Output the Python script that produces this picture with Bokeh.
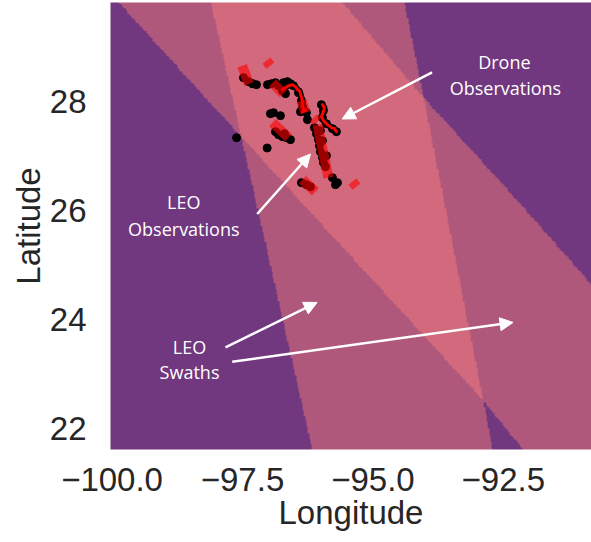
import numpy as np
from bokeh.plotting import figure
from bokeh.models import (Range1d, FixedTicker, CustomJSTickFormatter, LinearColorMapper,
                          Label, Arrow, NormalHead)
from bokeh.embed import file_html
from bokeh.resources import INLINE

# ---------------- data ----------------
x_ticks = [-100.0, -97.5, -95.0, -92.5]
y_ticks = [22, 24, 26, 28]
x_label = "Longitude"
y_label = "Latitude"

# swath boundaries (lat ascending -> lon)
swath_a_west_lat = [21.0, 21.605, 22.56, 28.156, 29.81, 30.5]
swath_a_west_lon = [-91.6, -92.12, -92.94, -98.305, -99.875, -100.53]
swath_a_east_lat = [21.0, 24.65, 26.17, 28.06, 29.81, 30.5]
swath_a_east_lon = [-87.48, -90.83, -92.23, -94.03, -95.59, -96.2]
swath_b_west_lat = [21.0, 21.605, 29.81, 30.5]
swath_b_west_lon = [-96.02, -96.165, -98.11, -98.27]
swath_b_east_lat = [21.0, 21.605, 22.56, 28.06, 29.81, 30.5]
swath_b_east_lon = [-92.59, -92.71, -92.90, -94.03, -94.40, -94.55]

coverage_colors = ["#71377f", "#b0587c", "#d3697c"]

# LEO observations (black dots)
leo_lon = [-97.481, -97.385, -97.308, -97.232,
           -97.021, -96.944, -96.868, -96.810, -96.715, -96.638, -96.580, -96.734, -96.676,
           -96.964, -96.906, -96.772,
           -97.615, -97.027,
           -96.868, -96.810, -96.734, -96.657, -96.580, -96.695,
           -96.523, -96.427, -96.370, -96.351, -96.332, -96.274, -96.389,
           -96.255,
           -95.987, -95.948, -95.967, -95.891, -95.776, -95.699,
           -96.121, -96.082, -96.044, -96.025, -96.006, -95.967, -95.948, -95.910, -96.006, -95.967, -95.891,
           -96.370, -96.274, -96.197,
           -95.776, -95.680, -95.718]
leo_lat = [28.431, 28.358, 28.321, 28.303,
           28.303, 28.321, 28.339, 28.284, 28.339, 28.358, 28.321, 28.193, 28.138,
           27.771, 27.789, 27.734,
           27.330, 27.141,
           27.440, 27.385, 27.349, 27.330, 27.294, 27.404,
           28.284, 28.156, 28.009, 27.899, 27.826, 27.789, 27.807,
           27.661,
           27.936, 27.826, 27.697, 27.587, 27.495, 27.440,
           27.514, 27.404, 27.294, 27.183, 27.073, 26.963, 26.872, 26.798, 27.459, 27.275, 27.000,
           26.505, 26.468, 26.431,
           26.596, 26.505, 26.468]

# Drone observations: stationary tracks (translucent red bars)
drone_bar_lon0 = [-97.506, -97.040, -96.925, -96.925, -96.063, -96.351, -95.393, -96.370, -96.140]
drone_bar_lat0 = [28.651, 28.743, 28.339, 27.606, 27.569, 26.560, 26.523, 28.009, 27.697]
drone_bar_lon1 = [-97.379, -96.964, -96.715, -96.619, -95.852, -96.102, -95.316, -96.293, -96.063]
drone_bar_lat1 = [28.315, 28.651, 28.138, 27.330, 26.596, 26.339, 26.431, 27.789, 27.624]

# Drone observations: flight paths
drone_path1_lon = [-96.734, -96.676, -96.619, -96.542, -96.485, -96.446, -96.408, -96.389,
                   -96.370, -96.351, -96.351, -96.332, -96.293, -96.351]
drone_path1_lat = [28.211, 28.248, 28.284, 28.303, 28.266, 28.211, 28.193, 28.138,
                   28.064, 27.991, 27.917, 27.862, 27.826, 27.807]
drone_path2_lon = [-95.967, -95.929, -95.948, -95.987, -95.948, -95.872, -95.795, -95.738, -95.699]
drone_path2_lat = [27.936, 27.881, 27.807, 27.716, 27.642, 27.569, 27.514, 27.495, 27.440]

# annotations (text lines, positions, arrows)
ann_text = ["Drone", "Observations", "LEO", "Observations", "LEO", "Swaths"]
ann_lon = [-92.48, -92.46, -98.625, -98.625, -98.515, -98.515]
ann_lat = [28.725, 28.248, 26.143, 25.655, 23.483, 23.024]
arrow_lon0 = [-93.866, -97.218, -97.826, -97.697]
arrow_lat0 = [28.528, 25.930, 23.483, 23.220]
arrow_lon1 = [-95.590, -96.197, -96.069, -92.314]
arrow_lat1 = [27.673, 27.031, 24.308, 23.941]

# ---------------- figure ----------------
p = figure(width=591, height=542, output_backend="svg", toolbar_location=None,
           x_range=Range1d(-100.03, -90.81), y_range=Range1d(21.61, 29.81),
           min_border_left=110, min_border_right=0, min_border_top=2, min_border_bottom=93)
p.outline_line_color = None
p.grid.visible = False
p.background_fill_color = "white"
p.border_fill_color = "white"

# coverage raster
step = 0.025
lon_c = np.arange(-100.3, -90.5, step) + step / 2
lat_c = np.arange(21.3, 30.0, step) + step / 2
LON, LAT = np.meshgrid(lon_c, lat_c)


def in_band(w_lat, w_lon, e_lat, e_lon):
    west = np.interp(LAT, w_lat, w_lon)
    east = np.interp(LAT, e_lat, e_lon)
    return ((LON >= west) & (LON <= east)).astype(float)


coverage = (in_band(swath_a_west_lat, swath_a_west_lon, swath_a_east_lat, swath_a_east_lon)
            + in_band(swath_b_west_lat, swath_b_west_lon, swath_b_east_lat, swath_b_east_lon))
mapper = LinearColorMapper(palette=coverage_colors, low=0, high=2)
p.image(image=[coverage], x=lon_c[0] - step / 2, y=lat_c[0] - step / 2,
        dw=len(lon_c) * step, dh=len(lat_c) * step, color_mapper=mapper)

# LEO observations
p.scatter(leo_lon, leo_lat, size=8, color="black")

# drone paths (black outline + red)
p.multi_line([drone_path1_lon, drone_path2_lon], [drone_path1_lat, drone_path2_lat],
             line_color="black", line_width=6, line_join="round", line_cap="round")
p.multi_line([drone_path1_lon, drone_path2_lon], [drone_path1_lat, drone_path2_lat],
             line_color="red", line_width=3, line_join="round", line_cap="round")

# drone bars
p.segment(drone_bar_lon0, drone_bar_lat0, drone_bar_lon1, drone_bar_lat1,
          line_color="red", line_alpha=0.6, line_width=10, line_cap="butt")

# annotations
for t, lx, ly in zip(ann_text, ann_lon, ann_lat):
    p.add_layout(Label(x=lx, y=ly, text=t, text_align="center", text_baseline="middle",
                       text_color="white", text_font="Open Sans", text_font_size="18px"))
for x0, y0, x1, y1 in zip(arrow_lon0, arrow_lat0, arrow_lon1, arrow_lat1):
    p.add_layout(Arrow(end=NormalHead(size=13, fill_color="white", line_color="white"),
                       x_start=x0, y_start=y0, x_end=x1, y_end=y1,
                       line_color="white", line_width=2.5))

# axes
p.xaxis.ticker = FixedTicker(ticks=x_ticks)
p.yaxis.ticker = FixedTicker(ticks=y_ticks)
p.xaxis.formatter = CustomJSTickFormatter(
    code="return (tick < 0 ? '\\u2212' : '') + Math.abs(tick).toFixed(1);")
p.yaxis.formatter = CustomJSTickFormatter(
    code="return (tick < 0 ? '\\u2212' : '') + Math.abs(tick).toFixed(0);")
p.xaxis.axis_label = x_label
p.yaxis.axis_label = y_label
for ax in (p.xaxis, p.yaxis):
    ax.axis_line_color = None
    ax.major_tick_line_color = None
    ax.minor_tick_line_color = None
    ax.major_tick_out = 0
    ax.major_tick_in = 0
    ax.major_label_text_font = "Liberation Sans"
    ax.major_label_text_font_size = "33px"
    ax.major_label_text_color = "#262626"
    ax.axis_label_text_font = "Liberation Sans"
    ax.axis_label_text_font_size = "33px"
    ax.axis_label_text_font_style = "normal"
    ax.axis_label_text_color = "#262626"
    ax.axis_label_standoff = 0
p.xaxis.major_label_standoff = 18
p.yaxis.major_label_standoff = 24

open("out.html", "w").write(file_html(p, INLINE))
